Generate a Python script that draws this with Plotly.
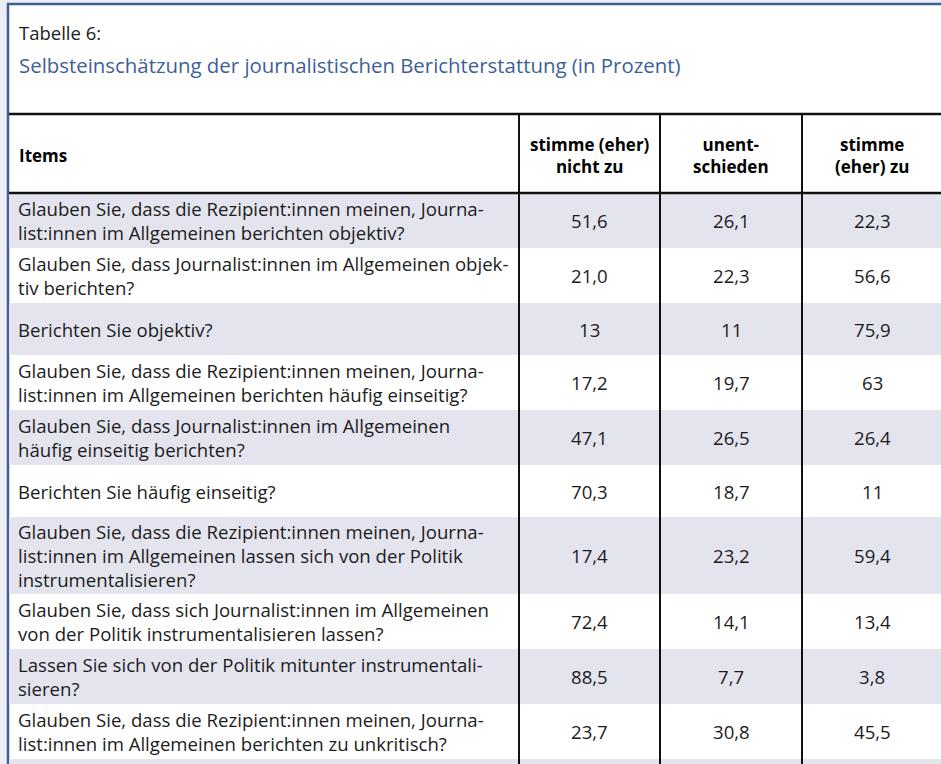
import plotly.graph_objects as go

# table content
table_label = "Tabelle 6:"
table_title = "Selbsteinschätzung der journalistischen Berichterstattung (in Prozent)"
header_items = "Items"
header_cols = [["stimme (eher)", "nicht zu"], ["unent-", "schieden"], ["stimme", "(eher) zu"]]

items = [
    ["Glauben Sie, dass die Rezipient:innen meinen, Journa-",
     "list:innen im Allgemeinen berichten objektiv?"],
    ["Glauben Sie, dass Journalist:innen im Allgemeinen objek-",
     "tiv berichten?"],
    ["Berichten Sie objektiv?"],
    ["Glauben Sie, dass die Rezipient:innen meinen, Journa-",
     "list:innen im Allgemeinen berichten häufig einseitig?"],
    ["Glauben Sie, dass Journalist:innen im Allgemeinen",
     "häufig einseitig berichten?"],
    ["Berichten Sie häufig einseitig?"],
    ["Glauben Sie, dass die Rezipient:innen meinen, Journa-",
     "list:innen im Allgemeinen lassen sich von der Politik",
     "instrumentalisieren?"],
    ["Glauben Sie, dass sich Journalist:innen im Allgemeinen",
     "von der Politik instrumentalisieren lassen?"],
    ["Lassen Sie sich von der Politik mitunter instrumentali-",
     "sieren?"],
    ["Glauben Sie, dass die Rezipient:innen meinen, Journa-",
     "list:innen im Allgemeinen berichten zu unkritisch?"],
]
nicht_zu = ["51,6", "21,0", "13", "17,2", "47,1", "70,3", "17,4", "72,4", "88,5", "23,7"]
unentschieden = ["26,1", "22,3", "11", "19,7", "26,5", "18,7", "23,2", "14,1", "7,7", "30,8"]
eher_zu = ["22,3", "56,6", "75,9", "63", "26,4", "11", "59,4", "13,4", "3,8", "45,5"]

W, H = 941, 764
FONT = "Open Sans"
TXT = "#1c1c1c"
BLUE = "#3e5f96"
SHADE = "#e4e4ef"
LH = 22  # line height used for the row heights

col_x = [8, 519, 660, 802, 945]
head_top, head_bot = 114, 193

fig = go.Figure()
fig.add_trace(go.Scatter(x=[0, W], y=[0, H], mode="markers", marker=dict(opacity=0),
                         hoverinfo="skip", showlegend=False))

shapes = []
ann = []

# page background + frame
shapes.append(dict(type="rect", x0=0, x1=W, y0=0, y1=H, fillcolor="#eceef3", line_width=0, layer="below"))
shapes.append(dict(type="rect", x0=8, x1=W + 5, y0=4, y1=H + 5, fillcolor="white",
                   line=dict(color=BLUE, width=2.5), layer="below"))

ann.append(dict(x=17, y=32, text=table_label, font=dict(size=18.5, color=TXT)))
ann.append(dict(x=17, y=65, text=table_title, font=dict(size=20.4, color=BLUE)))

# header
ann.append(dict(x=17, y=155, text="<b>%s</b>" % header_items, font=dict(size=17, color="black")))
for j, lines in enumerate(header_cols):
    cx = (col_x[j + 1] + col_x[j + 2]) / 2 if j < 2 else 872
    ann.append(dict(x=cx, y=155, text="<br>".join("<b>%s</b>" % t for t in lines), xanchor="center",
                    align="center", font=dict(size=17, color="black")))

# body rows
y = head_bot
for r, lines in enumerate(items):
    n = len(lines)
    h = max(52, LH * n + 11)
    if r % 2 == 0:
        shapes.append(dict(type="rect", x0=9, x1=W + 5, y0=y, y1=y + h, fillcolor=SHADE,
                           line_width=0, layer="below"))
    cy = y + h / 2
    ann.append(dict(x=16, y=cy, text="<br>".join(lines), align="left",
                    font=dict(size=18.6, color=TXT)))
    for j, vals in enumerate([nicht_zu, unentschieden, eher_zu]):
        cx = (col_x[j + 1] + col_x[j + 2]) / 2 if j < 2 else 872
        ann.append(dict(x=cx, y=cy, text=vals[r], xanchor="center", font=dict(size=18.6, color=TXT)))
    y += h
# start of the next (cut off) shaded row
shapes.append(dict(type="rect", x0=9, x1=W + 5, y0=y, y1=H + 5, fillcolor=SHADE, line_width=0, layer="below"))

# rules
for yy in (head_top, head_bot):
    shapes.append(dict(type="line", x0=9, x1=W + 5, y0=yy, y1=yy, line=dict(color="#111", width=2.5)))
for xx in col_x[1:4]:
    shapes.append(dict(type="line", x0=xx, x1=xx, y0=head_top, y1=H + 5, line=dict(color="#111", width=2)))

for a in ann:
    a.setdefault("xanchor", "left")
    a.update(xref="x", yref="y", yanchor="middle", showarrow=False)
    a["font"]["family"] = FONT

fig.update_layout(
    width=W, height=H, margin=dict(l=0, r=0, t=0, b=0),
    plot_bgcolor="white", paper_bgcolor="white",
    xaxis=dict(range=[0, W], visible=False, fixedrange=True),
    yaxis=dict(range=[H, 0], visible=False, fixedrange=True),
    shapes=shapes, annotations=ann,
)

# drop the browser's default page margin so the figure sits at the top-left corner
fig.write_html("out.html", config={"displayModeBar": False},
               post_script="document.body.style.margin='0';document.body.style.overflow='hidden';")
